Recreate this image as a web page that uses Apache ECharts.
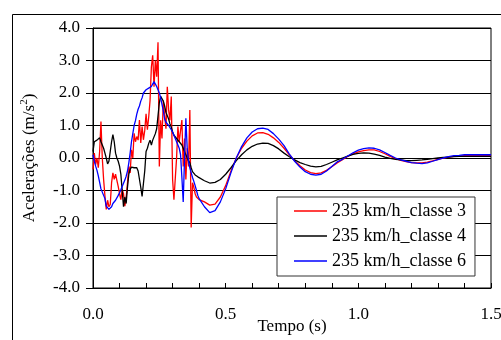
<!DOCTYPE html>
<html>
<head>
<meta charset="utf-8">
<script src="https://cdn.jsdelivr.net/npm/echarts@6/dist/echarts.min.js"></script>
<style>html,body{margin:0;padding:0;background:#fff;}#c{width:501px;height:340px;}</style>
</head>
<body>
<div id="c"></div>
<script>
// Time samples (s)
const timeEarly = [0,0.005,0.01,0.015,0.02,0.025,0.03,0.035,0.04,0.045,0.05,0.055,0.06,0.065,0.07,0.075,0.08,0.085,0.09,0.095,
0.1,0.105,0.11,0.115,0.12,0.125,0.13,0.135,0.14,0.145,0.15,0.155,0.16,0.165,0.17,0.175,0.18,0.185,0.19,0.195,
0.2,0.205,0.21,0.215,0.22,0.225,0.23,0.235,0.24,0.245,0.25,0.255,0.26,0.265,0.27,0.275,0.28,0.285,0.29,0.295,
0.3,0.305,0.31,0.315,0.32,0.325,0.33,0.335,0.34,0.345,0.35,0.355,0.36,0.365,0.37,0.375,0.38,0.385,0.39,0.395,0.4];
const timeLate = [0.42,0.44,0.46,0.48,0.5,0.52,0.54,0.56,0.58,0.6,0.62,0.64,0.66,0.68,0.7,0.72,0.74,0.76,0.78,0.8,
0.82,0.84,0.86,0.88,0.9,0.92,0.94,0.96,0.98,1.0,1.02,1.04,1.06,1.08,1.1,1.12,1.14,1.16,1.18,1.2,
1.22,1.24,1.26,1.28,1.3,1.32,1.34,1.36,1.38,1.4,1.42,1.44,1.46,1.48,1.5];

// 235 km/h_classe 3 (red)
const classe3Early = [-0.35,0.15,-0.2,0.0,-0.3,0.2,1.12,0.0,-0.66,-1.17,-1.58,-1.3,-1.5,-1.43,-0.76,-0.46,-0.66,-0.5,-0.46,-0.87,
-1.1,-1.28,-0.97,-1.1,-1.48,-1.21,-0.76,-0.26,-0.46,0.25,0.0,0.76,0.5,0.66,0.55,1.17,0.46,0.97,0.56,0.85,
1.36,0.87,1.27,1.77,2.8,3.16,2.19,3.0,2.5,3.56,-0.26,1.16,0.6,1.77,1.3,0.9,2.19,1.48,1.16,1.89,
-0.66,-1.28,-1.22,0.0,0.97,0.5,0.85,1.17,-0.26,0.6,-0.66,0.3,-0.26,1.48,-2.14,-0.76,-0.9,-1.1,-1.2,-1.25,-1.28];
const classe3Late = [-1.35,-1.45,-1.42,-1.2,-0.85,-0.4,0.0,0.3,0.52,0.68,0.77,0.78,0.73,0.62,0.48,0.3,0.1,-0.08,-0.24,-0.37,
-0.45,-0.48,-0.46,-0.38,-0.27,-0.15,-0.05,0.05,0.13,0.19,0.23,0.25,0.25,0.2,0.13,0.05,-0.02,-0.07,-0.11,-0.14,
-0.15,-0.15,-0.13,-0.09,-0.04,0.0,0.03,0.05,0.06,0.07,0.08,0.08,0.08,0.08,0.08];

// 235 km/h_classe 4 (black)
const classe4Early = [0.2,0.5,0.45,0.55,0.6,0.62,0.5,0.45,0.3,0.15,0.0,-0.18,-0.1,0.2,0.5,0.72,0.5,0.15,0.0,-0.1,
-0.25,-0.5,-1.0,-1.5,-1.2,-1.4,-0.9,-0.5,-0.35,-0.28,-0.25,-0.3,-0.28,-0.3,-0.4,-0.45,-0.9,-1.18,-1.2,-0.4,
0.2,0.3,0.45,0.55,0.4,0.55,0.6,0.75,0.9,1.3,1.7,1.9,1.9,1.75,1.6,1.4,1.3,1.2,1.05,0.95,
0.8,0.7,0.65,0.6,0.55,0.5,0.45,0.4,0.3,0.2,0.1,0.0,-0.08,-0.15,-0.3,-0.42,-0.48,-0.52,-0.55,-0.58,-0.62];
const classe4Late = [-0.7,-0.77,-0.75,-0.66,-0.5,-0.3,-0.08,0.1,0.25,0.36,0.43,0.46,0.45,0.38,0.28,0.15,0.04,-0.06,-0.14,-0.2,
-0.25,-0.27,-0.26,-0.2,-0.13,-0.06,0.0,0.06,0.11,0.14,0.16,0.15,0.12,0.08,0.03,-0.01,-0.04,-0.06,-0.08,-0.08,
-0.07,-0.06,-0.04,-0.02,0.0,0.02,0.03,0.04,0.05,0.05,0.05,0.05,0.05,0.05,0.05];

// 235 km/h_classe 6 (blue)
const classe6Early = [0.1,-0.1,-0.25,-0.38,-0.55,-0.75,-0.95,-1.05,-1.15,-1.25,-1.48,-1.5,-1.58,-1.6,-1.5,-1.4,-1.35,-1.3,-1.25,-1.15,
-1.07,-0.98,-0.88,-0.78,-0.68,-0.56,-0.4,-0.15,0.15,0.5,0.75,1.0,1.15,1.35,1.5,1.6,1.75,1.85,2.0,2.05,
2.1,2.1,2.15,2.1,2.2,2.15,2.35,2.3,2.2,2.1,2.0,1.85,1.65,1.45,1.2,1.1,1.05,1.0,0.95,0.87,
0.8,0.7,0.6,0.5,0.45,0.3,0.1,-0.6,-1.35,0.0,1.22,0.3,-0.1,-0.3,-0.45,-0.6,-0.72,-0.85,-1.0,-1.15,-1.25];
const classe6Late = [-1.5,-1.68,-1.62,-1.35,-0.95,-0.45,0.0,0.35,0.62,0.8,0.9,0.92,0.88,0.75,0.58,0.38,0.12,-0.1,-0.28,-0.42,
-0.5,-0.53,-0.5,-0.4,-0.26,-0.12,-0.04,0.06,0.16,0.24,0.29,0.31,0.3,0.25,0.17,0.08,0.0,-0.06,-0.1,-0.14,
-0.16,-0.17,-0.15,-0.1,-0.05,0.0,0.04,0.07,0.08,0.1,0.1,0.1,0.1,0.1,0.1];

const seriesNames = ['235 km/h_classe 3','235 km/h_classe 4','235 km/h_classe 6'];
const seriesColors = ['#ff0000','#000000','#0000ff'];

const times = timeEarly.concat(timeLate);
function pairs(early, late) {
  const v = early.concat(late);
  return times.map((t, i) => [t, v[i]]);
}
const allData = [pairs(classe3Early, classe3Late), pairs(classe4Early, classe4Late), pairs(classe6Early, classe6Late)];

const FONT = "'Liberation Serif', 'Times New Roman', serif";
const chart = echarts.init(document.getElementById('c'), null, {renderer: 'canvas'});
chart.setOption({
  animation: false,
  backgroundColor: '#fff',
  textStyle: {fontFamily: FONT, color: '#000'},
  graphic: [{
    type: 'rect', left: 10, top: 12, silent: true,
    shape: {width: 500, height: 340},
    style: {fill: 'none', stroke: '#000', lineWidth: 1}
  }],
  grid: {left: 93, right: 10, top: 28, bottom: 52, show: true, borderColor: '#000', borderWidth: 1,
    backgroundColor: 'transparent', containLabel: false, outerBoundsMode: 'none'},
  legend: {
    orient: 'vertical', left: 277, top: 197,
    backgroundColor: '#fff', borderColor: '#333', borderWidth: 1,
    padding: [5, 9, 6, 17], itemGap: 7, itemWidth: 33, itemHeight: 1.5, icon: 'rect',
    textStyle: {fontFamily: FONT, fontSize: 18, color: '#000', lineHeight: 17},
    data: seriesNames
  },
  xAxis: {
    type: 'value', min: 0, max: 1.5, interval: 0.5,
    name: 'Tempo (s)', nameLocation: 'middle', nameGap: 30, nameMoveOverlap: false,
    nameTextStyle: {fontFamily: FONT, fontSize: 17, color: '#000'},
    axisLine: {show: true, onZero: false, lineStyle: {color: '#000', width: 1}},
    axisTick: {show: true, inside: true, length: 5, lineStyle: {color: '#000'}},
    minorTick: {show: true, splitNumber: 5, length: 5, lineStyle: {color: '#000', width: 1}},
    splitLine: {show: false},
    axisLabel: {fontFamily: FONT, fontSize: 17, color: '#000', margin: 18,
      formatter: v => v.toFixed(1)}
  },
  yAxis: {
    type: 'value', min: -4, max: 4, interval: 1,
    name: 'Acelerações (m/s{sup|2})', nameLocation: 'middle', nameGap: 52, nameRotate: 90, nameMoveOverlap: false,
    nameTextStyle: {fontFamily: FONT, fontSize: 17, color: '#000',
      rich: {sup: {fontFamily: FONT, fontSize: 11, color: '#000', verticalAlign: 'top', lineHeight: 22}}},
    axisLine: {show: true, onZero: false, lineStyle: {color: '#000', width: 1}},
    axisTick: {show: true, inside: false, length: 7, lineStyle: {color: '#000'}},
    splitLine: {show: true, lineStyle: {color: '#000', width: 1}},
    axisLabel: {fontFamily: FONT, fontSize: 17, color: '#000', margin: 13,
      formatter: v => v.toFixed(1)}
  },
  series: allData.map((d, i) => ({
    name: seriesNames[i], type: 'line', data: d, symbol: 'none', showSymbol: false,
    lineStyle: {color: seriesColors[i], width: 1.3}, itemStyle: {color: seriesColors[i]},
    z: 2 + i
  }))
});
</script>
</body>
</html>
